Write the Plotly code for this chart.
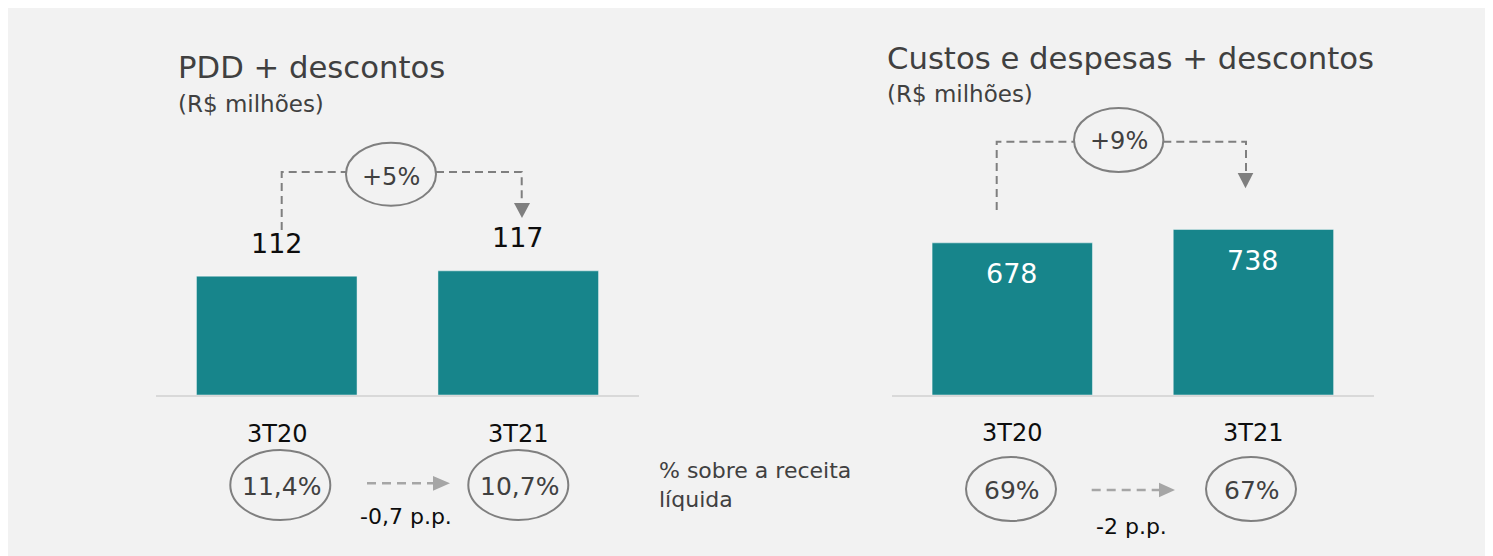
import plotly.graph_objects as go

# ---------------- data ----------------
categories = ["3T20", "3T21"]
pdd_values = [112, 117]
custos_values = [678, 738]
pdd_pct = ["11,4%", "10,7%"]
custos_pct = ["69%", "67%"]
pdd_growth = "+5%"
custos_growth = "+9%"
pdd_pp = "-0,7 p.p."
custos_pp = "-2 p.p."
title_left = "PDD + descontos"
title_right = "Custos e despesas + descontos"
subtitle = "(R$ milhões)"
pct_note = "% sobre a receita<br>líquida"

# ---------------- layout helpers ----------------
W, H, OFF = 1485, 548, 8
FONT = "DejaVu Sans"
TEAL = "#17858b"
DARK = "#404040"
GRAY = "#7f7f7f"
LIGHT = "#a6a6a6"


def PX(sx):
    return (sx - OFF) / W


def PY(sy):
    return 1 - (sy - OFF) / H


fig = go.Figure()

fig.add_trace(go.Bar(x=categories, y=pdd_values, xaxis="x", yaxis="y",
                     marker=dict(color=TEAL, line=dict(color="rgba(255,255,255,0.45)", width=1)),
                     hoverinfo="skip", showlegend=False))
fig.add_trace(go.Bar(x=categories, y=custos_values, xaxis="x2", yaxis="y2",
                     marker=dict(color=TEAL, line=dict(color="rgba(255,255,255,0.45)", width=1)),
                     hoverinfo="skip", showlegend=False))

ydom = [PY(395), 1]
axis_common = dict(showline=True, linecolor="#d9d9d9", linewidth=2, showgrid=False,
                   zeroline=False, showticklabels=False, ticks="", fixedrange=True)
fig.update_layout(
    width=W, height=H,
    margin=dict(l=0, r=0, t=0, b=0),
    paper_bgcolor="#f2f2f2", plot_bgcolor="rgba(0,0,0,0)",
    bargap=0.335,
    xaxis=dict(domain=[PX(156), PX(639)], anchor="y", **axis_common),
    xaxis2=dict(domain=[PX(891.7), PX(1374)], anchor="y2", **axis_common),
    yaxis=dict(domain=ydom, range=[0, 364.7], visible=False, fixedrange=True),
    yaxis2=dict(domain=ydom, range=[0, 1724.6], visible=False, fixedrange=True),
    font=dict(family=FONT),
)

ann = []


def text(x, y, s, size, color=DARK, xanchor="center", xref="paper", yref="paper",
         yshift=0, align="center"):
    ann.append(dict(x=x, y=y, text=s, showarrow=False, xref=xref, yref=yref,
                    xanchor=xanchor, yanchor="middle", yshift=yshift, align=align,
                    font=dict(family=FONT, size=size, color=color)))


# titles
text(PX(176), PY(68), title_left, 30.7, xanchor="left")
text(PX(176), PY(104), subtitle, 23, xanchor="left")
text(PX(885), PY(58), title_right, 30.7, xanchor="left")
text(PX(885), PY(94), subtitle, 23, xanchor="left")

# value labels
for c, v in zip(categories, pdd_values):
    text(c, v, str(v), 27, color="#0d0d0d", xref="x", yref="y", yshift=33)
for c, v in zip(categories, custos_values):
    text(c, v, str(v), 27, color="white", xref="x2", yref="y2", yshift=-31)

# category labels
for c in categories:
    text(c, PY(434), c, 24, color="#0d0d0d", xref="x")
    text(c, PY(433), c, 24, color="#0d0d0d", xref="x2")

shapes = []


def ellipse(cx, cy, rx, ry):
    shapes.append(dict(type="circle", xref="paper", yref="paper",
                       x0=PX(cx - rx), x1=PX(cx + rx), y0=PY(cy + ry), y1=PY(cy - ry),
                       line=dict(color=GRAY, width=2), fillcolor="rgba(0,0,0,0)"))


def path(points, color, dash=None, fill=None, width=2):
    d = "M " + " L ".join(f"{PX(x):.5f},{PY(y):.5f}" for x, y in points)
    if fill:
        d += " Z"
    shp = dict(type="path", xref="paper", yref="paper", path=d,
               line=dict(color=color, width=0 if fill else width))
    if dash:
        shp["line"]["dash"] = dash
    if fill:
        shp["fillcolor"] = fill
    shapes.append(shp)


# ---- top growth connectors ----
# left
path([(281.7, 230), (281.7, 172), (346, 172)], GRAY, dash="8px,5px")
path([(436, 172), (521.7, 172), (521.7, 204)], GRAY, dash="8px,5px")
path([(514, 203), (530, 203), (522, 218)], GRAY, fill=GRAY)
ellipse(391, 174.2, 45, 31.5)
text(PX(391), PY(177), pdd_growth, 24)
# right
path([(996.7, 210), (996.7, 141.7), (1074, 141.7)], GRAY, dash="8px,5px")
path([(1163.3, 141.7), (1246, 141.7), (1246, 174)], GRAY, dash="8px,5px")
path([(1237.7, 173), (1253.3, 173), (1245.5, 188.3)], GRAY, fill=GRAY)
ellipse(1118.7, 140, 44.7, 32)
text(PX(1118.7), PY(141), custos_growth, 24)

# ---- bottom percentages ----
left_cx = [280.3, 518.3]
for cx, s in zip(left_cx, pdd_pct):
    ellipse(cx, 485, 50, 35)
    text(PX(cx + 1), PY(486), s, 25)
right_cx = [1011, 1251]
for cx, s in zip(right_cx, custos_pct):
    ellipse(cx, 489, 45, 32)
    text(PX(cx + 1), PY(490), s, 25)

# bottom arrows
path([(367, 483.3), (434, 483.3)], LIGHT, dash="9px,6px", width=2.5)
path([(433, 476), (433, 490.7), (450, 483.3)], LIGHT, fill=LIGHT)
text(PX(406), PY(516.7), pdd_pp, 22, color="#0d0d0d")

path([(1091.7, 490), (1160, 490)], LIGHT, dash="9px,6px", width=2.5)
path([(1159, 482.7), (1159, 497.3), (1175, 490)], LIGHT, fill=LIGHT)
text(PX(1131), PY(526.7), custos_pp, 22, color="#0d0d0d")

# note
text(PX(657), PY(485), pct_note, 22, xanchor="left", align="left")

fig.update_layout(annotations=ann, shapes=shapes)
fig.write_html("out.html")
